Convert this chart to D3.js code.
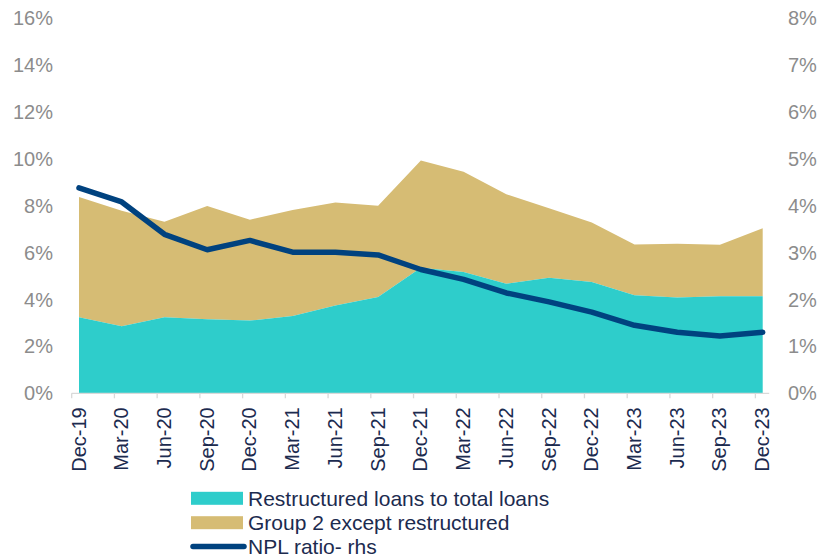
<!DOCTYPE html>
<html><head><meta charset="utf-8">
<script src="https://cdn.jsdelivr.net/npm/d3@7"></script>
<style>body{margin:0;background:#fff}svg{display:block;font-family:"Liberation Sans",Arial,sans-serif}</style>
</head><body>
<svg id="c" width="821" height="556"></svg>
<script>
const categories = ["Dec-19","Mar-20","Jun-20","Sep-20","Dec-20","Mar-21","Jun-21","Sep-21","Dec-21","Mar-22","Jun-22","Sep-22","Dec-22","Mar-23","Jun-23","Sep-23","Dec-23"];
const restructured = [3.24,2.86,3.24,3.16,3.10,3.30,3.74,4.11,5.35,5.17,4.67,4.93,4.75,4.18,4.09,4.14,4.14];
const group2 = [5.13,4.93,4.08,4.83,4.30,4.52,4.40,3.89,4.58,4.28,3.82,2.96,2.53,2.17,2.29,2.20,2.90];
const npl = [4.38,4.08,3.39,3.06,3.26,3.01,3.01,2.95,2.64,2.43,2.14,1.95,1.73,1.45,1.30,1.22,1.30];
const leftTicks = [0,2,4,6,8,10,12,14,16];
const rightTicks = [0,1,2,3,4,5,6,7,8];
const legendLabels = ["Restructured loans to total loans","Group 2 except restructured","NPL ratio- rhs"];
const colors = {teal:"#2ecdcb", gold:"#d6bc74", navy:"#00427f", axis:"#d9d9d9", ylab:"#8c8c8c", xlab:"#1c2b4f"};

const svg = d3.select("#c");
const x = d3.scalePoint().domain(categories).range([79, 762.7]);
const yL = d3.scaleLinear().domain([0,16]).range([393.3, 18.1]);
const yR = d3.scaleLinear().domain([0,8]).range([393.3, 18.1]);
const step = x.step();

const rows = categories.map((c,i)=>({c, r:restructured[i], g:group2[i], n:npl[i]}));

// stacked areas
svg.append("path").datum(rows)
  .attr("fill", colors.gold)
  .attr("d", d3.area().x(d=>x(d.c)).y0(d=>yL(d.r)).y1(d=>yL(d.r+d.g)));
svg.append("path").datum(rows)
  .attr("fill", colors.teal)
  .attr("d", d3.area().x(d=>x(d.c)).y0(yL(0)).y1(d=>yL(d.r)));

// x axis
const off = -step*0.171;
const xg = svg.append("g");
xg.append("line").attr("x1", x(categories[0])+off).attr("x2", x(categories[categories.length-1])+6.5)
  .attr("y1", yL(0)).attr("y2", yL(0)).attr("stroke", colors.axis).attr("stroke-width",1.3);
xg.selectAll("line.t").data(categories).join("line").attr("class","t")
  .attr("x1", d=>x(d)+off).attr("x2", d=>x(d)+off)
  .attr("y1", yL(0)).attr("y2", yL(0)+5).attr("stroke", colors.axis).attr("stroke-width",1.3);
xg.selectAll("text").data(categories).join("text")
  .attr("transform", d=>`translate(${x(d)+6.5},${yL(0)+14}) rotate(-90)`)
  .attr("text-anchor","end").attr("font-size",20).attr("fill",colors.xlab).text(d=>d);

// NPL line
svg.append("path").datum(rows)
  .attr("fill","none").attr("stroke",colors.navy).attr("stroke-width",5.5)
  .attr("stroke-linejoin","round").attr("stroke-linecap","round")
  .attr("d", d3.line().x(d=>x(d.c)).y(d=>yR(d.n)));

// y labels
svg.selectAll("text.yl").data(leftTicks).join("text").attr("class","yl")
  .attr("x",53).attr("y",d=>yL(d)).attr("dy","0.35em").attr("text-anchor","end")
  .attr("font-size",20).attr("fill",colors.ylab).text(d=>d+"%");
svg.selectAll("text.yr").data(rightTicks).join("text").attr("class","yr")
  .attr("x",788).attr("y",d=>yR(d)).attr("dy","0.35em").attr("text-anchor","start")
  .attr("font-size",20).attr("fill",colors.ylab).text(d=>d+"%");

// legend
const lg = svg.append("g");
const ly = [498.3, 522.7, 546.5];
lg.append("rect").attr("x",191).attr("y",ly[0]-6.5).attr("width",52).attr("height",13).attr("fill",colors.teal);
lg.append("rect").attr("x",191).attr("y",ly[1]-6.5).attr("width",52).attr("height",13).attr("fill",colors.gold);
lg.append("line").attr("x1",193).attr("x2",244).attr("y1",ly[2]).attr("y2",ly[2])
  .attr("stroke",colors.navy).attr("stroke-width",5.5).attr("stroke-linecap","round");
lg.selectAll("text").data(legendLabels).join("text")
  .attr("x",248).attr("y",(d,i)=>ly[i]).attr("dy","0.35em")
  .attr("font-size",21).attr("fill",colors.xlab).text(d=>d);
</script>
</body></html>
